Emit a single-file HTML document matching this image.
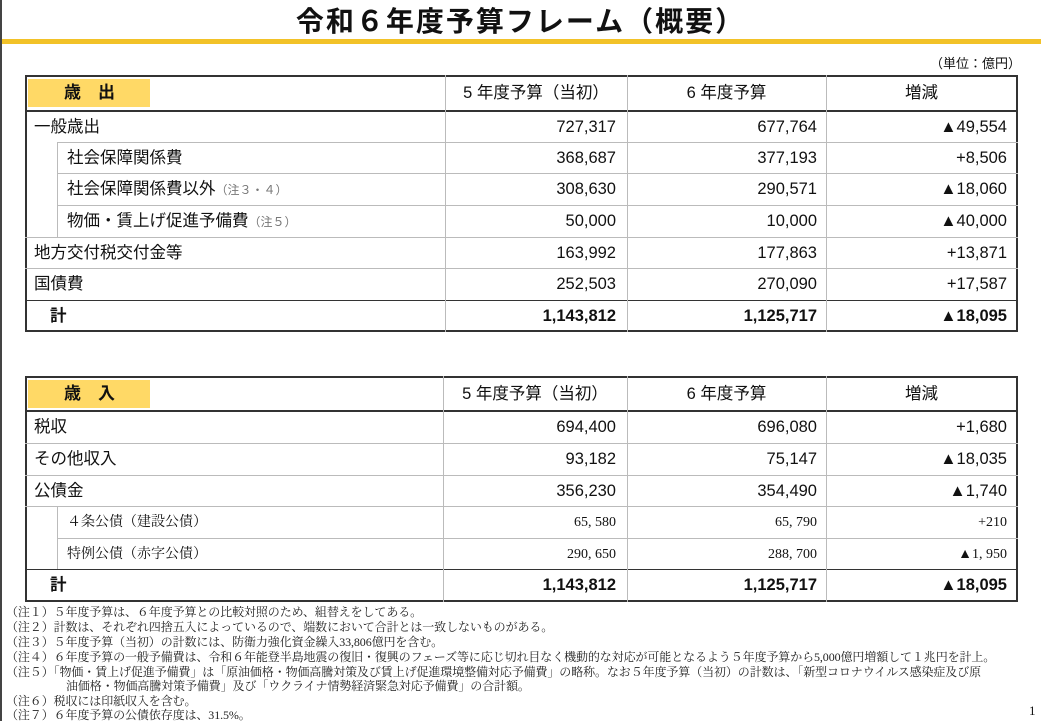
<!DOCTYPE html>
<html><head><meta charset="utf-8">
<style>
*{margin:0;padding:0;box-sizing:border-box}
body{width:1041px;height:721px;background:#fff;position:relative;overflow:hidden;font-family:"Liberation Sans","Noto Sans CJK JP",sans-serif;color:#111}
.a{position:absolute;white-space:nowrap}
.h{position:absolute;height:1px;background:#bbb}
.v{position:absolute;width:1px;background:#bbb}
.k{background:#333}
.t{font-size:16.5px;line-height:31px}
.r{text-align:right}
.s{font-family:"Liberation Serif","Noto Serif CJK JP",serif;font-size:14px;line-height:31px}
.n{font-family:"Liberation Serif","Noto Serif CJK JP",serif;font-size:12px;color:#222;line-height:14px;letter-spacing:-0.1px}
.b{font-weight:bold}
.g{color:#777;font-size:12px}
</style></head><body>
<div class="a" style="left:0;top:0;width:2px;height:721px;background:#444"></div>
<div class="a b" style="left:0;width:1041px;top:4px;text-align:center;font-size:28px;line-height:36px;letter-spacing:2px">令和６年度予算フレーム（概要）</div>
<div class="a" style="left:2px;top:39px;width:1039px;height:5px;background:#f2c228"></div>
<div class="a" style="left:930px;top:53px;font-size:13px">（単位：億円）</div>

<!-- Table 1 -->
<div class="a" style="left:25px;top:75px;width:993px;height:257px;border:2px solid #333"></div>
<div class="a b" style="left:28px;top:79px;width:122px;height:28px;background:#ffd966;font-size:17px;line-height:28px;padding-left:36px">歳　出</div>
<div class="h k" style="left:25px;top:110px;width:993px;height:2px"></div>
<div class="h" style="left:57px;top:142px;width:961px"></div>
<div class="h" style="left:57px;top:173px;width:961px"></div>
<div class="h" style="left:57px;top:205px;width:961px"></div>
<div class="h" style="left:25px;top:237px;width:993px"></div>
<div class="h" style="left:25px;top:268px;width:993px"></div>
<div class="h k" style="left:25px;top:300px;width:993px"></div>
<div class="v" style="left:57px;top:142px;height:95px"></div>
<div class="v" style="left:445px;top:75px;height:257px"></div>
<div class="v" style="left:627px;top:75px;height:257px"></div>
<div class="v" style="left:826px;top:75px;height:257px"></div>
<div class="a t" style="left:445px;width:182px;top:78px;text-align:center">5 年度予算（当初）</div>
<div class="a t" style="left:627px;width:199px;top:78px;text-align:center">6 年度予算</div>
<div class="a t" style="left:826px;width:191px;top:78px;text-align:center">増減</div>

<div class="a t" style="left:34px;top:112px">一般歳出</div>
<div class="a t" style="left:67px;top:143px">社会保障関係費</div>
<div class="a t" style="left:67px;top:174px">社会保障関係費以外<span class="g">（注３・４）</span></div>
<div class="a t" style="left:67px;top:206px">物価・賃上げ促進予備費<span class="g">（注５）</span></div>
<div class="a t" style="left:34px;top:238px">地方交付税交付金等</div>
<div class="a t" style="left:34px;top:269px">国債費</div>
<div class="a t b" style="left:50px;top:301px">計</div>

<div class="a t r" style="left:445px;width:171px;top:112px">727,317</div>
<div class="a t r" style="left:445px;width:171px;top:143px">368,687</div>
<div class="a t r" style="left:445px;width:171px;top:174px">308,630</div>
<div class="a t r" style="left:445px;width:171px;top:206px">50,000</div>
<div class="a t r" style="left:445px;width:171px;top:238px">163,992</div>
<div class="a t r" style="left:445px;width:171px;top:269px">252,503</div>
<div class="a t r b" style="left:445px;width:171px;top:301px">1,143,812</div>

<div class="a t r" style="left:627px;width:190px;top:112px">677,764</div>
<div class="a t r" style="left:627px;width:190px;top:143px">377,193</div>
<div class="a t r" style="left:627px;width:190px;top:174px">290,571</div>
<div class="a t r" style="left:627px;width:190px;top:206px">10,000</div>
<div class="a t r" style="left:627px;width:190px;top:238px">177,863</div>
<div class="a t r" style="left:627px;width:190px;top:269px">270,090</div>
<div class="a t r b" style="left:627px;width:190px;top:301px">1,125,717</div>

<div class="a t r" style="left:826px;width:181px;top:112px">▲49,554</div>
<div class="a t r" style="left:826px;width:181px;top:143px">+8,506</div>
<div class="a t r" style="left:826px;width:181px;top:174px">▲18,060</div>
<div class="a t r" style="left:826px;width:181px;top:206px">▲40,000</div>
<div class="a t r" style="left:826px;width:181px;top:238px">+13,871</div>
<div class="a t r" style="left:826px;width:181px;top:269px">+17,587</div>
<div class="a t r b" style="left:826px;width:181px;top:301px">▲18,095</div>

<!-- Table 2 -->
<div class="a" style="left:25px;top:376px;width:993px;height:226px;border:2px solid #333"></div>
<div class="a b" style="left:28px;top:380px;width:122px;height:28px;background:#ffd966;font-size:17px;line-height:28px;padding-left:36px">歳　入</div>
<div class="h k" style="left:25px;top:410px;width:993px;height:2px"></div>
<div class="h" style="left:25px;top:443px;width:993px"></div>
<div class="h" style="left:25px;top:475px;width:993px"></div>
<div class="h" style="left:25px;top:506px;width:993px"></div>
<div class="h" style="left:57px;top:538px;width:961px"></div>
<div class="h k" style="left:25px;top:569px;width:993px"></div>
<div class="v" style="left:57px;top:506px;height:63px"></div>
<div class="v" style="left:443px;top:376px;height:226px"></div>
<div class="v" style="left:627px;top:376px;height:226px"></div>
<div class="v" style="left:826px;top:376px;height:226px"></div>
<div class="a t" style="left:443px;width:184px;top:379px;text-align:center">5 年度予算（当初）</div>
<div class="a t" style="left:627px;width:199px;top:379px;text-align:center">6 年度予算</div>
<div class="a t" style="left:826px;width:191px;top:379px;text-align:center">増減</div>

<div class="a t" style="left:34px;top:412px">税収</div>
<div class="a t" style="left:34px;top:444px">その他収入</div>
<div class="a t" style="left:34px;top:476px">公債金</div>
<div class="a s" style="left:67px;top:507px">４条公債（建設公債）</div>
<div class="a s" style="left:67px;top:539px">特例公債（赤字公債）</div>
<div class="a t b" style="left:50px;top:570px">計</div>

<div class="a t r" style="left:443px;width:173px;top:412px">694,400</div>
<div class="a t r" style="left:443px;width:173px;top:444px">93,182</div>
<div class="a t r" style="left:443px;width:173px;top:476px">356,230</div>
<div class="a s r" style="left:443px;width:173px;top:507px">65, 580</div>
<div class="a s r" style="left:443px;width:173px;top:539px">290, 650</div>
<div class="a t r b" style="left:443px;width:173px;top:570px">1,143,812</div>

<div class="a t r" style="left:627px;width:190px;top:412px">696,080</div>
<div class="a t r" style="left:627px;width:190px;top:444px">75,147</div>
<div class="a t r" style="left:627px;width:190px;top:476px">354,490</div>
<div class="a s r" style="left:627px;width:190px;top:507px">65, 790</div>
<div class="a s r" style="left:627px;width:190px;top:539px">288, 700</div>
<div class="a t r b" style="left:627px;width:190px;top:570px">1,125,717</div>

<div class="a t r" style="left:826px;width:181px;top:412px">+1,680</div>
<div class="a t r" style="left:826px;width:181px;top:444px">▲18,035</div>
<div class="a t r" style="left:826px;width:181px;top:476px">▲1,740</div>
<div class="a s r" style="left:826px;width:181px;top:507px">+210</div>
<div class="a s r" style="left:826px;width:181px;top:539px">▲1, 950</div>
<div class="a t r b" style="left:826px;width:181px;top:570px">▲18,095</div>

<!-- Notes -->
<div class="a n" style="left:6px;top:605px">（注１）５年度予算は、６年度予算との比較対照のため、組替えをしてある。</div>
<div class="a n" style="left:6px;top:620px">（注２）計数は、それぞれ四捨五入によっているので、端数において合計とは一致しないものがある。</div>
<div class="a n" style="left:6px;top:635px">（注３）５年度予算（当初）の計数には、防衛力強化資金繰入33,806億円を含む。</div>
<div class="a n" style="left:6px;top:650px">（注４）６年度予算の一般予備費は、令和６年能登半島地震の復旧・復興のフェーズ等に応じ切れ目なく機動的な対応が可能となるよう５年度予算から5,000億円増額して１兆円を計上。</div>
<div class="a n" style="left:6px;top:665px">（注５）「物価・賃上げ促進予備費」は「原油価格・物価高騰対策及び賃上げ促進環境整備対応予備費」の略称。なお５年度予算（当初）の計数は、「新型コロナウイルス感染症及び原</div>
<div class="a n" style="left:66px;top:679px">油価格・物価高騰対策予備費」及び「ウクライナ情勢経済緊急対応予備費」の合計額。</div>
<div class="a n" style="left:6px;top:694px">（注６）税収には印紙収入を含む。</div>
<div class="a n" style="left:6px;top:708px">（注７）６年度予算の公債依存度は、31.5%。</div>
<div class="a" style="left:1029px;top:703px;font-size:13px;font-family:'Liberation Serif',serif">1</div>
</body></html>
